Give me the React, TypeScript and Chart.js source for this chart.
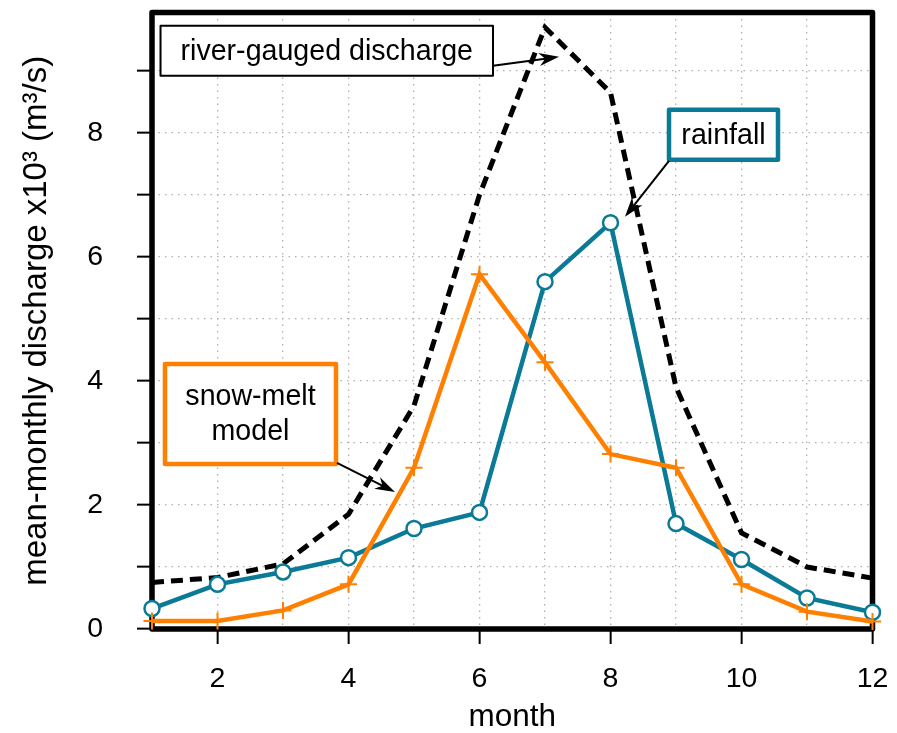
import React, { useEffect, useRef } from 'react';
import { Chart, registerables } from 'chart.js';
Chart.register(...registerables);

const FONT = '"Liberation Sans", Arial, Helvetica, sans-serif';

const months = [1, 2, 3, 4, 5, 6, 7, 8, 9, 10, 11, 12];
const riverGauged = [0.75, 0.83, 1.05, 1.85, 3.6, 7.0, 9.7, 8.65, 3.9, 1.55, 1.0, 0.82];
const rainfall = [0.33, 0.72, 0.92, 1.15, 1.62, 1.88, 5.6, 6.55, 1.7, 1.12, 0.5, 0.27];
const snowMelt = [0.13, 0.13, 0.3, 0.72, 2.6, 5.72, 4.3, 2.82, 2.6, 0.72, 0.28, 0.12];
const xTickLabels = [2, 4, 6, 8, 10, 12];
const yTicks = [0, 1, 2, 3, 4, 5, 6, 7, 8, 9];
const yTickLabels = [0, 2, 4, 6, 8];

const TEAL = '#0a7a96';
const ORANGE = '#ff8000';

// annotation boxes in data coordinates: [left, top, right, bottom]
const annoText = [['river-gauged discharge'], ['rainfall'], ['snow-melt', 'model']];
const annoBox = [
  [1.13, 9.726, 6.206, 8.919],
  [8.893, 8.371, 10.557, 7.565],
  [1.198, 4.274, 3.809, 2.661],
];
const annoColor = ['#000000', TEAL, ORANGE];
const annoBorder = [2, 4.5, 4.5];
const arrowFrom = [[6.206, 9.08], [8.893, 7.548], [3.824, 2.677]];
const arrowTo = [[7.214, 9.226], [8.221, 6.645], [4.71, 2.21]];

const toPts = (ys: number[]) => ys.map((y, i) => ({ x: months[i], y }));

function drawArrow(ctx: CanvasRenderingContext2D, x1: number, y1: number, x2: number, y2: number) {
  const ang = Math.atan2(y2 - y1, x2 - x1);
  const L = 20, W = 6.5;
  ctx.save();
  ctx.strokeStyle = '#000';
  ctx.fillStyle = '#000';
  ctx.lineWidth = 2;
  ctx.beginPath();
  ctx.moveTo(x1, y1);
  ctx.lineTo(x2 - Math.cos(ang) * L * 0.6, y2 - Math.sin(ang) * L * 0.6);
  ctx.stroke();
  ctx.translate(x2, y2);
  ctx.rotate(ang);
  ctx.beginPath();
  ctx.moveTo(0, 0);
  ctx.lineTo(-L, -W);
  ctx.lineTo(-L * 0.7, 0);
  ctx.lineTo(-L, W);
  ctx.closePath();
  ctx.fill();
  ctx.restore();
}

const framePlugin = {
  id: 'frame',
  beforeDatasetsDraw(chart: any) {
    const { ctx, chartArea: a } = chart;
    ctx.save();
    ctx.strokeStyle = '#000';
    ctx.lineWidth = 5.5;
    ctx.lineJoin = 'round';
    ctx.strokeRect(a.left, a.top, a.right - a.left, a.bottom - a.top);
    ctx.restore();
  },
};

const annoPlugin = {
  id: 'annos',
  afterDatasetsDraw(chart: any) {
    const { ctx } = chart;
    const xs = chart.scales.x;
    const ys = chart.scales.y;
    for (let i = 0; i < annoBox.length; i++) {
      const [l, t, r, b] = annoBox[i];
      const L = xs.getPixelForValue(l);
      const R = xs.getPixelForValue(r);
      const T = ys.getPixelForValue(t);
      const B = ys.getPixelForValue(b);
      ctx.save();
      ctx.fillStyle = '#fff';
      ctx.fillRect(L, T, R - L, B - T);
      ctx.strokeStyle = annoColor[i];
      ctx.lineWidth = annoBorder[i];
      ctx.lineJoin = 'round';
      ctx.strokeRect(L, T, R - L, B - T);
      ctx.fillStyle = '#000';
      ctx.font = `28.6px ${FONT}`;
      ctx.textAlign = 'center';
      ctx.textBaseline = 'middle';
      const lines = annoText[i];
      const lh = 35;
      const cy = (T + B) / 2;
      lines.forEach((s, k) => {
        ctx.fillText(s, (L + R) / 2, cy + (k - (lines.length - 1) / 2) * lh + 1);
      });
      ctx.restore();
      const [fx, fy] = arrowFrom[i];
      const [tx, ty] = arrowTo[i];
      drawArrow(ctx, xs.getPixelForValue(fx), ys.getPixelForValue(fy), xs.getPixelForValue(tx), ys.getPixelForValue(ty));
    }
  },
};

const zeroPad = (s: any) => {
  s.paddingTop = 0;
  s.paddingBottom = 0;
  s.paddingLeft = 0;
  s.paddingRight = 0;
};

export default function App() {
  const ref = useRef<HTMLCanvasElement>(null);
  useEffect(() => {
    if (!ref.current) return;
    const chart = new Chart(ref.current, {
      type: 'line',
      data: {
        datasets: [
          {
            label: 'snow-melt model',
            data: toPts(snowMelt),
            borderColor: ORANGE,
            borderWidth: 4.5,
            pointStyle: 'cross',
            pointRadius: 8.5,
            pointBorderWidth: 2,
            pointBorderColor: ORANGE,
            pointBackgroundColor: ORANGE,
            tension: 0,
            clip: false as any,
            order: 1,
          },
          {
            label: 'rainfall',
            data: toPts(rainfall),
            borderColor: TEAL,
            borderWidth: 4.5,
            pointStyle: 'circle',
            pointRadius: 7.5,
            pointBorderWidth: 2.5,
            pointBorderColor: TEAL,
            pointBackgroundColor: '#fff',
            tension: 0,
            clip: false as any,
            order: 2,
          },
          {
            label: 'river-gauged discharge',
            data: toPts(riverGauged),
            borderColor: '#000',
            borderWidth: 5,
            borderDash: [12, 7],
            borderCapStyle: 'butt',
            pointRadius: 0,
            tension: 0,
            clip: false as any,
            order: 3,
          },
        ],
      },
      options: {
        animation: false,
        responsive: false,
        maintainAspectRatio: false,
        layout: { padding: { left: 0, right: 24.5, top: 12.5, bottom: 0 }, autoPadding: false },
        plugins: { legend: { display: false }, tooltip: { enabled: false } },
        scales: {
          x: {
            type: 'linear',
            min: 1,
            max: 12,
            afterFit: (s: any) => { s.height = 104; zeroPad(s); },
            afterBuildTicks: (s: any) => { s.ticks = months.map((v) => ({ value: v })); },
            ticks: {
              autoSkip: false,
              maxRotation: 0,
              padding: 18,
              color: '#000',
              font: { family: FONT, size: 28.5 },
              callback: (v: any) => (xTickLabels.includes(Number(v)) ? String(v) : ''),
            },
            grid: {
              color: '#b0b0b0',
              lineWidth: 1.3,
              tickLength: 15,
              tickWidth: 2,
              tickBorderDash: [],
              tickColor: (c: any) => (c.tick && xTickLabels.includes(c.tick.value) ? '#000' : 'rgba(0,0,0,0)'),
            },
            border: { display: false, dash: [1.5, 5] },
            title: {
              display: true,
              text: 'month',
              color: '#000',
              font: { family: FONT, size: 31.5, lineHeight: 1 },
              padding: { top: 0, bottom: 0 },
            },
          },
          y: {
            type: 'linear',
            min: 0,
            max: 9.94,
            afterFit: (s: any) => { s.width = 152; zeroPad(s); },
            afterBuildTicks: (s: any) => { s.ticks = yTicks.map((v) => ({ value: v })); },
            ticks: {
              autoSkip: false,
              padding: 34,
              color: '#000',
              font: { family: FONT, size: 28.5 },
              callback: (v: any) => (yTickLabels.includes(Number(v)) ? String(v) : ''),
            },
            grid: {
              color: '#b0b0b0',
              lineWidth: 1.3,
              tickLength: 15,
              tickWidth: 2,
              tickBorderDash: [],
              tickColor: '#000',
            },
            border: { display: false, dash: [1.5, 5] },
            title: {
              display: true,
              text: 'mean-monthly discharge x10³ (m³/s)',
              color: '#000',
              font: { family: FONT, size: 33, lineHeight: 1.2 },
              padding: { top: 17, bottom: 0 },
            },
          },
        },
      },
      plugins: [framePlugin, annoPlugin],
    } as any);
    return () => chart.destroy();
  }, []);
  return (
    <div style={{ position: 'absolute', left: 0, top: 0, width: 897, height: 733, background: '#fff' }}>
      <canvas ref={ref} width={897} height={733} style={{ display: 'block', width: 897, height: 733 }} />
    </div>
  );
}
